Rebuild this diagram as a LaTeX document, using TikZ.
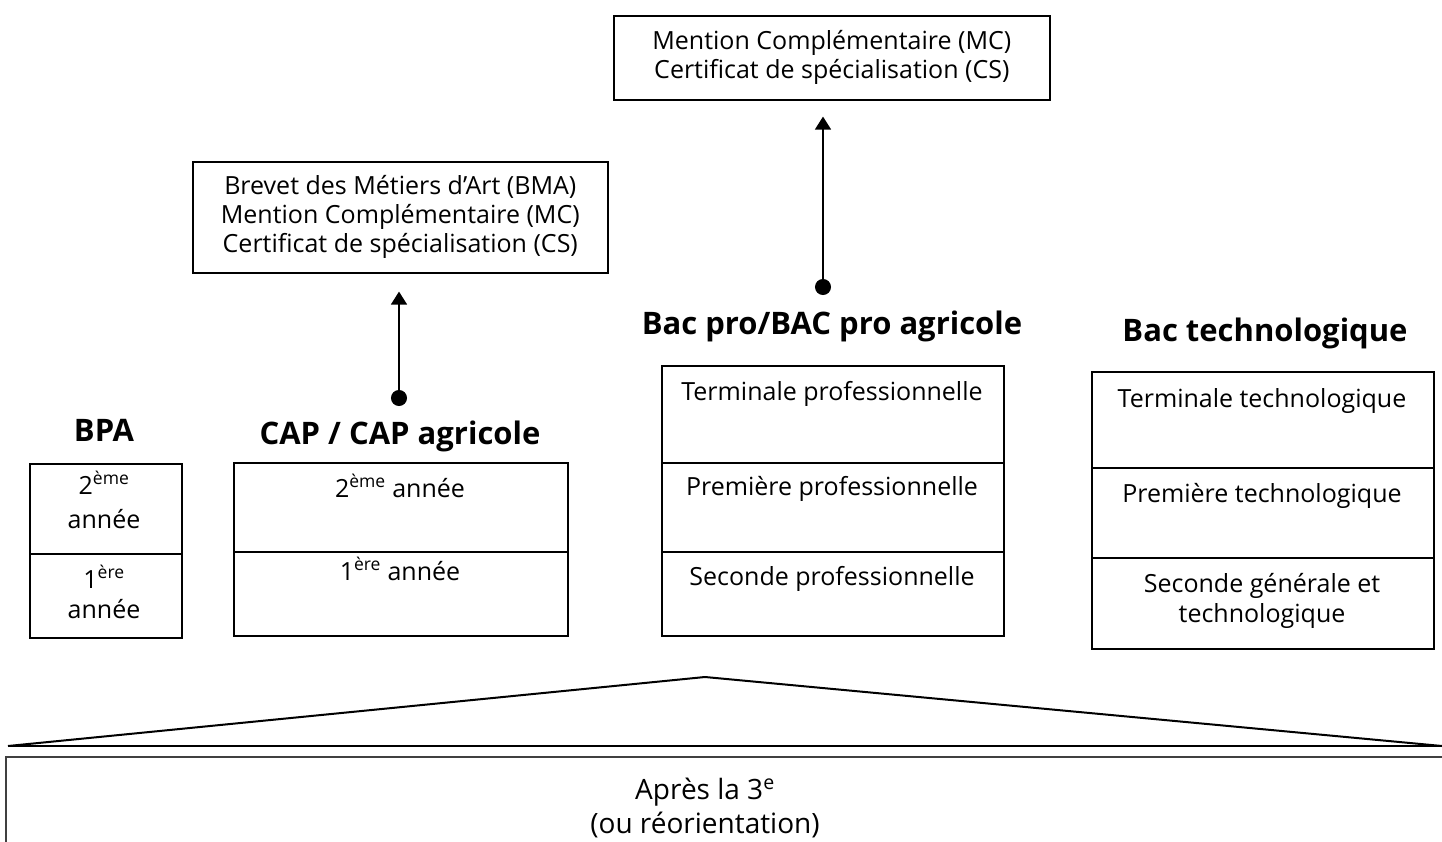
\documentclass[tikz,border=0pt]{standalone}
\usepackage{fontspec}
\setmainfont{Open Sans}
\usetikzlibrary{arrows.meta}
\begin{document}
\begin{tikzpicture}[x=1pt,y=-1pt,
  boxst/.style={draw, line width=1.6pt, inner sep=0pt, anchor=north west},
  rowst/.style={draw, line width=1.6pt, inner sep=0pt, anchor=north west},
  txt/.style={font=\fontsize{25}{29}\selectfont, anchor=base, inner sep=0pt},
  mtxt/.style={font=\fontsize{25}{29}\selectfont, align=center},
  ttl/.style={font=\bfseries\fontsize{31}{32}\selectfont, anchor=base, inner sep=0pt},
  conn/.style={line width=1.6pt, {Circle[length=16pt]}-{Triangle[length=13pt,width=16pt]}}
]
\useasboundingbox (0,0) rectangle (1442,842);
% top boxes
\node[boxst, minimum width=436pt, minimum height=84pt, mtxt] (mc) at (613,15)
  {Mention Complémentaire (MC)\\Certificat de spécialisation (CS)};
\node[boxst, minimum width=415pt, minimum height=111pt, mtxt] (bma) at (192,161)
  {Brevet des Métiers d’Art (BMA)\\Mention Complémentaire (MC)\\Certificat de spécialisation (CS)};
% titles
\node[ttl] (tbpa) at (104,441) {BPA};
\node[ttl] (tcap) at (400,444) {CAP / CAP agricole};
\node[ttl] (tpro) at (832,334) {Bac pro/BAC pro agricole};
\node[ttl] (ttec) at (1265,341) {Bac technologique};
% connectors
\coordinate (d1) at (399,406);
\coordinate (d2) at (823,295);
\draw[conn, shorten >=18pt] (d1) -- (d1 |- bma.south);
\draw[conn, shorten >=16pt] (d2) -- (d2 |- mc.south);
% BPA
\node[rowst, minimum width=152pt, minimum height=90pt] (bpa2) at (29,463) {};
\node[rowst, minimum width=152pt, minimum height=84pt] (bpa1) at (29,553) {};
\node[txt] (bpa2a) at (104,494) {2\textsuperscript{ème}};
\node[txt] (bpa2b) at (104,528) {année};
\node[txt] (bpa1a) at (104,588) {1\textsuperscript{ère}};
\node[txt] (bpa1b) at (104,618) {année};
% CAP
\node[rowst, minimum width=334pt, minimum height=89pt] (cap2) at (233,462) {};
\node[rowst, minimum width=334pt, minimum height=84pt] (cap1) at (233,551) {};
\node[txt] (cap2t) at (400,497) {2\textsuperscript{ème} année};
\node[txt] (cap1t) at (400,580) {1\textsuperscript{ère} année};
% Bac pro
\node[rowst, minimum width=342pt, minimum height=97pt] (pro3) at (661,365) {};
\node[rowst, minimum width=342pt, minimum height=89pt] (pro2) at (661,462) {};
\node[rowst, minimum width=342pt, minimum height=84pt] (pro1) at (661,551) {};
\node[txt] (pro3t) at (832,400) {Terminale professionnelle};
\node[txt] (pro2t) at (832,495) {Première professionnelle};
\node[txt] (pro1t) at (832,585) {Seconde professionnelle};
% Bac techno
\node[rowst, minimum width=342pt, minimum height=96pt] (tec3) at (1091,371) {};
\node[rowst, minimum width=342pt, minimum height=90pt] (tec2) at (1091,467) {};
\node[rowst, minimum width=342pt, minimum height=91pt] (tec1) at (1091,557) {};
\node[txt] (tec3t) at (1262,407) {Terminale technologique};
\node[txt] (tec2t) at (1262,502) {Première technologique};
\node[txt] (tec1a) at (1262,592) {Seconde générale et};
\node[txt] (tec1b) at (1262,622) {technologique};
% roof
\coordinate (apex) at (705,677);
\coordinate (bl) at (8,746);
\coordinate (br) at (1442,746);
\draw[line width=2pt] (bl) -- (apex) -- (br);
\draw[line width=2.8pt] (bl) -- (br);
% bottom box
\node[boxst, draw=black!75, line width=2.2pt, minimum width=1460pt, minimum height=110pt] (apres) at (5,756) {};
\node[txt, font=\fontsize{28}{30}\selectfont] (ap1) at (705,799) {Après la 3\textsuperscript{e}};
\node[txt, font=\fontsize{28}{30}\selectfont] (ap2) at (705,833) {(ou réorientation)};
\end{tikzpicture}
\end{document}
